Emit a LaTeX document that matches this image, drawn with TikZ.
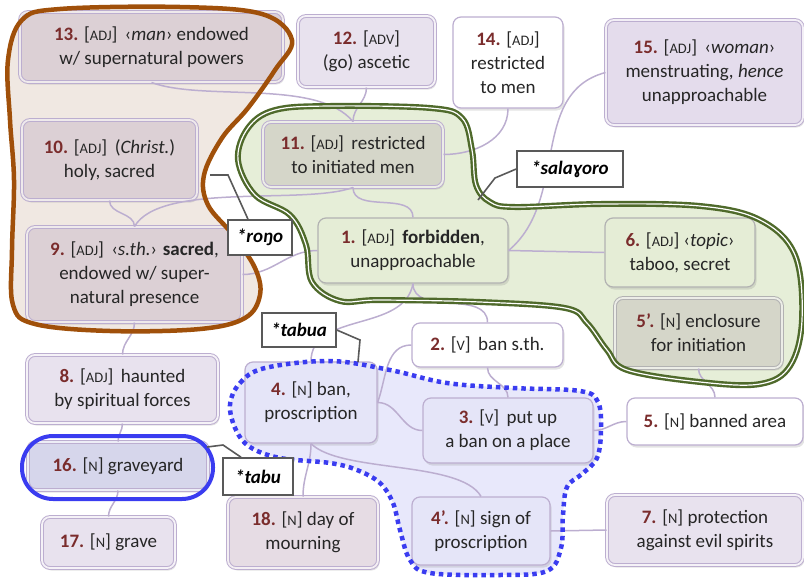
\documentclass[tikz,border=0pt]{standalone}
\usepackage{fontspec}
\setmainfont{Carlito}
\usetikzlibrary{shadows}

\definecolor{numred}{HTML}{7A2C2C}
\definecolor{boxline}{HTML}{BCAED0}
\definecolor{linkcol}{HTML}{BCAED0}
\definecolor{pinkbox}{HTML}{DCD0D5}
\definecolor{pinkbox2}{HTML}{E6DCE4}
\definecolor{lavbox}{HTML}{E8E2EE}
\definecolor{lavbox2}{HTML}{E4DCEC}
\definecolor{greybox}{HTML}{D5D6C9}
\definecolor{greenbox}{HTML}{E5EDD6}
\definecolor{bluebox}{HTML}{E5E5F8}
\definecolor{bluegrey}{HTML}{D6D6EB}
\definecolor{brownline}{HTML}{A0500A}
\definecolor{brownfill}{HTML}{F0E8E2}
\definecolor{greenline}{HTML}{4F6A2B}
\definecolor{greenfill}{HTML}{E6EED8}
\definecolor{blueline}{HTML}{3A3CF0}
\definecolor{bluefill}{HTML}{E8E8FB}

\newcommand\nb[1]{\textbf{\textcolor{numred}{#1}}}
\newcommand\pos[1]{[{\fontsize{14.5}{14}\selectfont #1}]}

\tikzset{
  box/.style={rounded corners=8pt, draw=boxline, line width=1.2pt, align=center,
    inner sep=1pt, text=black!85,
    drop shadow={shadow xshift=1.5pt, shadow yshift=-2.5pt, opacity=.22}},
  dbl/.style={double=#1, double distance=1.8pt, line width=1pt},
  sz/.style 2 args={minimum width=#1, minimum height=#2},
  link/.style={draw=linkcol, line width=1.5pt},
  tag/.style={draw=black!65, line width=1.6pt, fill=white, inner sep=2pt,
    font=\bfseries\itshape\fontsize{19}{20}\selectfont},
  tagline/.style={draw=black!65, line width=1.6pt},
}

\begin{document}
\begin{tikzpicture}[x=1pt, y=1pt, font=\fontsize{19}{24}\selectfont]
\useasboundingbox (0,0) rectangle (804,-582);

% groups
\fill[brownfill, save path=\brownblob]
  plot[smooth cycle, tension=0.6] coordinates {(8,-60) (22,-20) (60,-9) (180,-7) (262,-14)
  (292,-40) (275,-70) (248,-108) (222,-138) (204,-175) (208,-205) (233,-235) (255,-268)
  (260,-295) (245,-318) (200,-329) (110,-331) (35,-324) (13,-305) (12,-250) (14,-180) (10,-120)};
\fill[greenfill, save path=\greenblob]
  plot[smooth cycle, tension=0.6] coordinates {(238,-160) (248,-128) (275,-110) (330,-106)
  (430,-108) (462,-118) (472,-150) (476,-185) (490,-202) (515,-207) (600,-204) (700,-206)
  (760,-220) (795,-255) (802,-320) (790,-366) (760,-384) (700,-382) (627,-370) (607,-350)
  (587,-323) (565,-308) (480,-302) (380,-300) (340,-301) (312,-282) (306,-245) (290,-215) (255,-195)};
\fill[bluefill, save path=\blueblob]
  plot[smooth cycle, tension=0.6] coordinates {(230,-405) (240,-383) (265,-368) (330,-361)
  (390,-370) (447,-383) (513,-388) (580,-391) (598,-402) (601,-430) (597,-458) (582,-474)
  (567,-487) (563,-515) (561,-548) (547,-571) (500,-575) (430,-573) (410,-560) (400,-530)
  (393,-503) (380,-483) (357,-470) (330,-463) (280,-458) (250,-447) (236,-430)};

% senses
\node[box, fill=pinkbox, dbl=pinkbox!45!white, sz={263pt}{70pt}] (n13) at (151.5,-47)
  {\nb{13.} \pos{ADJ}\, ‹\textit{man}› endowed\\ w/ supernatural powers};
\node[box, fill=lavbox, dbl=lavbox!45!white, sz={137pt}{71pt}] (n12) at (366.5,-51.5)
  {\nb{12.} \pos{ADV}\\ (go) ascetic};
\node[box, fill=white, sz={110pt}{91pt}] (n14) at (508,-62.5)
  {\nb{14.} \pos{ADJ}\\ restricted\\ to men};
\node[box, fill=lavbox2, dbl=lavbox2!45!white, sz={197pt}{105pt}] (n15) at (704.5,-72.5)
  {\nb{15.} \pos{ADJ}\, ‹\textit{woman}›\\ menstruating, \textit{hence}\\ unapproachable};
\node[box, fill=pinkbox, dbl=pinkbox!45!white, sz={175pt}{80pt}] (n10) at (109.5,-160)
  {\nb{10.} \pos{ADJ}\, (\textit{Christ.})\\ holy, sacred};
\node[box, fill=greybox, dbl=greybox!45!white, sz={180pt}{65pt}] (n11) at (353,-154.5)
  {\nb{11.} \pos{ADJ}\, restricted\\ to initiated men};
\node[box, fill=greenbox, draw=black!30, sz={190pt}{65pt}] (n1) at (413,-250.5)
  {\nb{1.} \pos{ADJ}\, \textbf{forbidden},\\ unapproachable};
\node[box, fill=greenbox, draw=black!30, sz={150pt}{69pt}] (n6) at (680,-252.5)
  {\nb{6.} \pos{ADJ} ‹\textit{topic}›\\ taboo, secret};
\node[box, fill=pinkbox, dbl=pinkbox!45!white, sz={215pt}{95pt}] (n9) at (134.5,-274.5)
  {\nb{9.} \pos{ADJ}\, ‹\textit{s.th.}› \textbf{sacred},\\ endowed w/ super-\\ natural presence};
\node[box, fill=greybox, draw=black!30, dbl=greybox!45!white, sz={167pt}{70pt}] (n5p) at (698.5,-333)
  {\nb{5’.} \pos{N} enclosure\\ for initiation};
\node[box, fill=white, sz={151pt}{44pt}] (n2) at (487.5,-345)
  {\nb{2.} \pos{V}\, ban s.th.};
\node[box, fill=lavbox, dbl=lavbox!45!white, sz={191pt}{68pt}] (n8) at (122.5,-389)
  {\nb{8.} \pos{ADJ}\, haunted\\ by spiritual forces};
\node[box, fill=bluebox, sz={132pt}{81pt}] (n4) at (311,-402.5)
  {\nb{4.} \pos{N} ban,\\ proscription};
\node[box, fill=bluebox, sz={170pt}{65pt}] (n3) at (508,-430.5)
  {\nb{3.} \pos{V}\, put up\\ a ban on a place};
\node[box, fill=white, sz={176pt}{47pt}] (n5) at (715,-421.5)
  {\nb{5.} \pos{N} banned area};
\node[box, fill=bluegrey, dbl=bluegrey!45!white, sz={180pt}{48pt}] (n16) at (118,-466)
  {\nb{16.} \pos{N} graveyard};
\node[box, fill=lavbox, dbl=lavbox!45!white, sz={133pt}{51pt}] (n17) at (108.5,-542.5)
  {\nb{17.} \pos{N} grave};
\node[box, fill=pinkbox2, dbl=pinkbox2!45!white, sz={150pt}{71pt}] (n18) at (303,-532.5)
  {\nb{18.} \pos{N} day of\\ mourning};
\node[box, fill=bluebox, sz={138pt}{68pt}] (n4p) at (481,-531)
  {\nb{4’.} \pos{N} sign of\\ proscription};
\node[box, fill=lavbox, dbl=lavbox!45!white, sz={196pt}{70pt}] (n7) at (705,-530)
  {\nb{7.} \pos{N} protection\\ against evil spirits};

% links
\foreach \a/\b in {n12/n11, n11/n1, n10/n9, n1/n2, n2/n3, n5p/n5, n4/n18, n9/n8, n8/n16, n16/n17}
  \draw[link] (\a.south) to[out=-90, in=90] (\b.north);
\draw[link] (n13.south) to[out=-20, in=130, looseness=0.7] (n11.north);
\draw[link] (n14.south) to[out=-90, in=0] (n11.east);
\draw[link] (n15.west) to[out=195, in=40] (n1.east);
\draw[link] (n11.south) to[out=-160, in=60, looseness=0.6] (n9.north);
\draw[link] (n1.west) to[out=180, in=0] (n9.east);
\draw[link] (n1.east) -- (n6.west);
\draw[link] (n1.south) to[out=-100, in=90] (n4.north);
\draw[link] (n2.west) to[out=180, in=70] (n4.east);
\draw[link] (n4.east) to[out=0, in=180] (n3.west);
\draw[link] (n3.east) to[out=0, in=180] (n5.west);
\draw[link] (n4.south) to[out=-45, in=120, looseness=0.6] (n4p.north);
\draw[link] (n4p.east) -- (n7.west);

% group outlines
\draw[brownline, line width=4.5pt, use path=\brownblob];
\draw[greenline, line width=2.4pt, double=white, double distance=1.2pt, use path=\greenblob];
\draw[blueline, line width=4.5pt, dash pattern=on 4.5pt off 4pt, use path=\blueblob];
\draw[blueline, line width=4pt, rounded corners=31pt] (22,-436) rectangle (213,-499);

% reconstructions
\coordinate (eb) at (210,-175);
\coordinate (eg) at (478,-200);
\coordinate (el) at (358,-362);
\coordinate (e16) at (207,-447);
\node[tag, sz={64pt}{35pt}] (lrono) at (260,-237.5) {*roŋo};
\node[tag, sz={106pt}{36pt}] (lsala) at (570,-169) {*salaɣoro};
\node[tag, sz={74pt}{34pt}] (ltabua) at (299,-330) {*tabua};
\node[tag, sz={70pt}{37pt}] (ltabu) at (258,-476.5) {*tabu};
\draw[tagline] ([xshift=-12pt]lrono.north) -- (228,-175) -- (eb);
\draw[tagline] (lsala.west) -- (495,-178) -- (eg);
\draw[tagline] (ltabua.east) -- (360,-340) -- (el);
\draw[tagline] ([xshift=-17pt]ltabu.north) -- (223,-445) -- (e16);
\end{tikzpicture}
\end{document}
